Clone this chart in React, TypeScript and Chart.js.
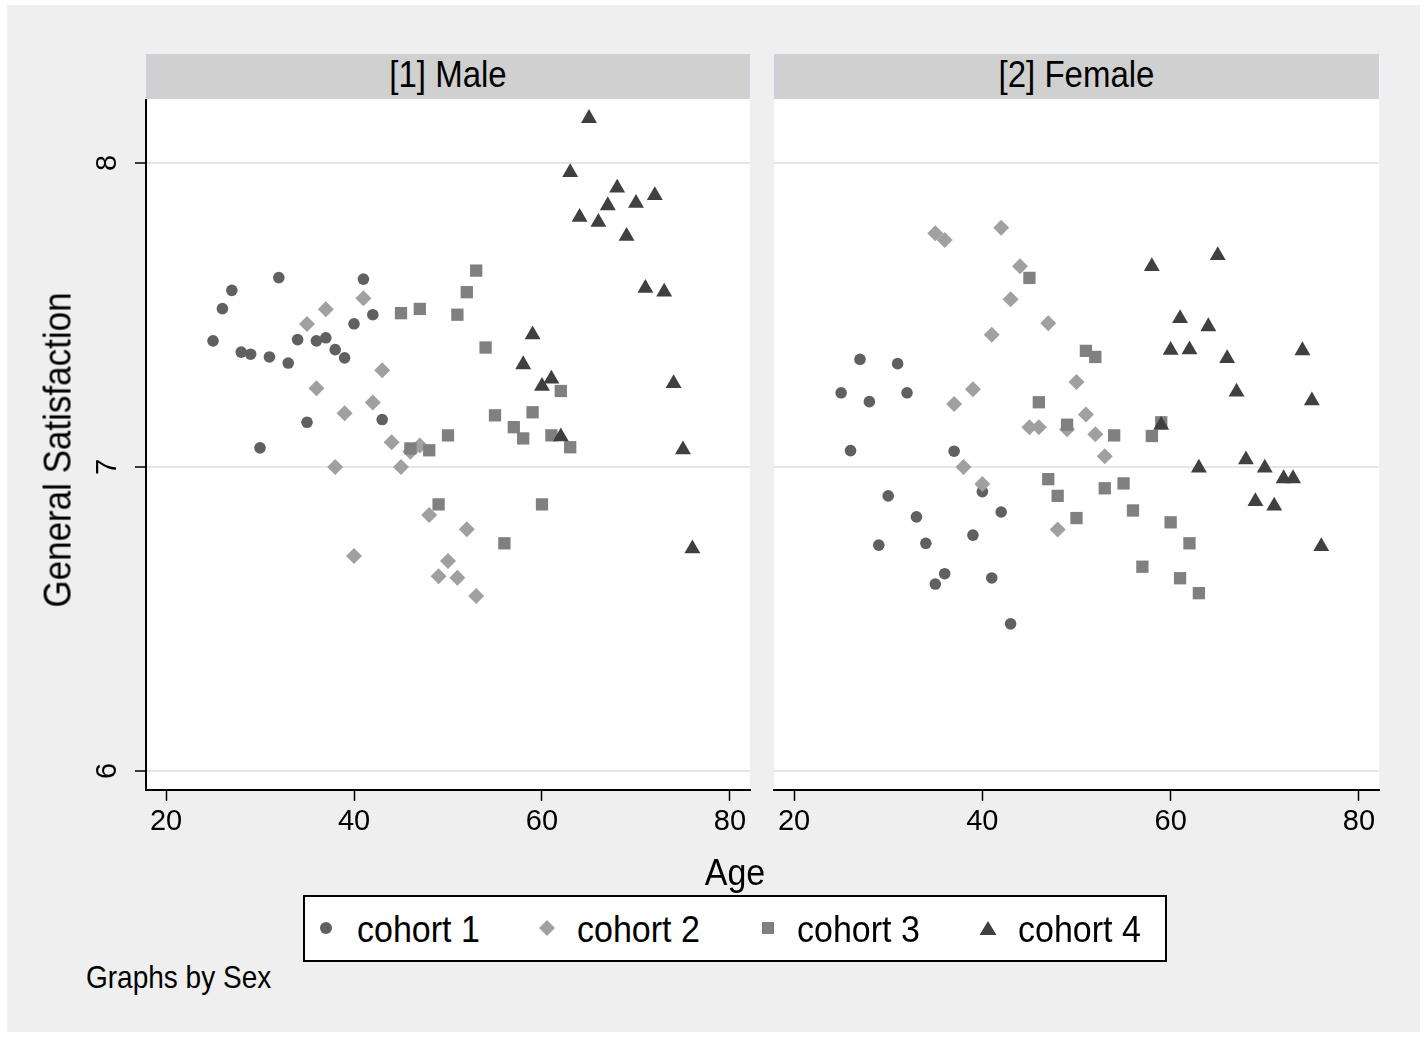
import React, { useEffect, useRef } from 'react';
import { Chart, registerables } from 'chart.js';

Chart.register(...registerables);

// ---------- data ----------
const cohortLabels = ['cohort 1', 'cohort 2', 'cohort 3', 'cohort 4'];
const panelTitles = ['[1] Male', '[2] Female'];
const ageTicks = [20, 40, 60, 80];
const satTicks = [6, 7, 8];

const maleAge1 = [25, 26, 27, 28, 29, 30, 31, 32, 33, 34, 35, 36, 37, 38, 39, 40, 41, 42, 43];
const maleSat1 = [7.415, 7.521, 7.581, 7.378, 7.371, 7.063, 7.362, 7.623, 7.342, 7.419, 7.147, 7.415, 7.425, 7.386, 7.359, 7.471, 7.618, 7.501, 7.156];
const maleAge2 = [35, 36, 37, 38, 39, 40, 41, 42, 43, 44, 45, 46, 47, 48, 49, 50, 51, 52, 53];
const maleSat2 = [7.47, 7.259, 7.519, 7.0, 7.177, 6.707, 7.555, 7.212, 7.318, 7.081, 7.0, 7.05, 7.071, 6.842, 6.641, 6.691, 6.636, 6.795, 6.576];
const maleAge3 = [45, 46, 47, 48, 49, 50, 51, 52, 53, 54, 55, 56, 57, 58, 59, 60, 61, 62, 63];
const maleSat3 = [7.506, 7.061, 7.52, 7.055, 6.877, 7.104, 7.501, 7.575, 7.646, 7.393, 7.17, 6.749, 7.131, 7.094, 7.18, 6.877, 7.104, 7.25, 7.065];
const maleAge4 = [58, 59, 60, 61, 62, 63, 64, 65, 66, 67, 68, 69, 70, 71, 72, 73, 74, 75, 76];
const maleSat4 = [7.337, 7.435, 7.266, 7.29, 7.1, 7.969, 7.822, 8.147, 7.805, 7.86, 7.918, 7.759, 7.868, 7.588, 7.893, 7.576, 7.275, 7.057, 6.731];

const femaleAge1 = [25, 26, 27, 28, 29, 30, 31, 32, 33, 34, 35, 36, 37, 39, 40, 41, 42, 43];
const femaleSat1 = [7.244, 7.054, 7.354, 7.215, 6.743, 6.905, 7.34, 7.244, 6.836, 6.749, 6.615, 6.649, 7.052, 6.776, 6.919, 6.635, 6.852, 6.484];
const femaleAge2 = [35, 36, 37, 38, 39, 40, 41, 42, 43, 44, 45, 46, 47, 48, 49, 50, 51, 52, 53];
const femaleSat2 = [7.769, 7.747, 7.207, 7.0, 7.256, 6.944, 7.435, 7.787, 7.552, 7.66, 7.131, 7.131, 7.473, 6.794, 7.124, 7.28, 7.173, 7.108, 7.035];
const femaleAge3 = [45, 46, 47, 48, 49, 50, 51, 52, 53, 54, 55, 56, 57, 58, 59, 60, 61, 62, 63];
const femaleSat3 = [7.622, 7.213, 6.96, 6.905, 7.139, 6.832, 7.382, 7.362, 6.93, 7.104, 6.946, 6.857, 6.672, 7.102, 7.147, 6.818, 6.634, 6.749, 6.585];
const femaleAge4 = [58, 59, 60, 61, 62, 63, 64, 65, 66, 67, 68, 69, 70, 71, 72, 73, 74, 75, 76];
const femaleSat4 = [7.66, 7.138, 7.384, 7.489, 7.386, 6.997, 7.462, 7.696, 7.357, 7.247, 7.024, 6.887, 6.997, 6.872, 6.962, 6.962, 7.383, 7.218, 6.739];

// ---------- styles ----------
const FONT = '"Liberation Sans", Arial, Helvetica, sans-serif';
const cohortColors = ['#606060', '#a0a0a0', '#808080', '#404040'];
const cohortShapes = ['circle', 'rectRot', 'rect', 'triangle'];
const cohortRadius = [5.8, 8, 8.7, 9.2];

const X_MIN = 17.87;
const X_MAX = 82.13;
const Y_MIN = 5.9375;
const Y_MAX = 8.2105;

const CANVAS_TOP = 99;
const CANVAS_H = 760;
const PLOT_H = 691;
const STRETCH = 'scaleY(1.1)';

const plotBackground = {
  id: 'plotBackground',
  beforeDraw(chart: any) {
    const { ctx, chartArea } = chart;
    if (!chartArea) return;
    ctx.save();
    ctx.fillStyle = '#ffffff';
    ctx.fillRect(chartArea.left, chartArea.top, chartArea.right - chartArea.left, chartArea.bottom - chartArea.top);
    ctx.restore();
  },
};

type PanelProps = {
  ages: number[][];
  sats: number[][];
  showY: boolean;
  left: number;
  width: number;
};

function Panel({ ages, sats, showY, left, width }: PanelProps) {
  const ref = useRef<HTMLCanvasElement | null>(null);
  useEffect(() => {
    if (!ref.current) return;
    const datasets = ages.map((a, i) => ({
      label: cohortLabels[i],
      data: a.map((x, j) => ({ x, y: sats[i][j] })),
      pointStyle: cohortShapes[i] as any,
      pointRadius: cohortRadius[i],
      pointBackgroundColor: cohortColors[i],
      pointBorderWidth: 0,
      pointBorderColor: cohortColors[i],
      order: 3 - i,
    }));
    const chart = new Chart(ref.current, {
      type: 'scatter',
      data: { datasets },
      plugins: [plotBackground],
      options: {
        responsive: false,
        animation: false,
        devicePixelRatio: 1,
        events: [],
        layout: {
          autoPadding: false,
          padding: { left: showY ? 0 : 10, right: 10, top: 0, bottom: 0 },
        },
        plugins: { legend: { display: false }, tooltip: { enabled: false } },
        scales: {
          x: {
            type: 'linear',
            min: X_MIN,
            max: X_MAX,
            afterBuildTicks: (s: any) => {
              s.ticks = ageTicks.map((v) => ({ value: v }));
            },
            afterFit: (s: any) => {
              s.height = CANVAS_H - PLOT_H;
              s.paddingLeft = 0;
              s.paddingRight = 0;
              s.paddingTop = 0;
              s.paddingBottom = 0;
            },
            grid: {
              display: true,
              drawOnChartArea: false,
              drawTicks: true,
              tickLength: 11,
              tickColor: '#000',
              tickWidth: 1.5,
            },
            border: { display: true, color: '#000', width: 2 },
            ticks: {
              color: '#000',
              font: { family: FONT, size: 29 },
              padding: 4,
              maxRotation: 0,
              minRotation: 0,
              autoSkip: false,
            },
          },
          y: {
            type: 'linear',
            min: Y_MIN,
            max: Y_MAX,
            afterBuildTicks: (s: any) => {
              s.ticks = satTicks.map((v) => ({ value: v }));
            },
            afterFit: (s: any) => {
              s.width = showY ? 146 : 0;
              s.paddingLeft = 0;
              s.paddingRight = 0;
              s.paddingTop = 0;
              s.paddingBottom = 0;
            },
            grid: {
              display: true,
              drawOnChartArea: true,
              drawTicks: showY,
              color: '#e6e6e6',
              lineWidth: 2,
              tickLength: 11,
              tickColor: '#000',
              tickWidth: 1.5,
            },
            border: { display: showY, color: '#000', width: 2 },
            ticks: {
              display: showY,
              color: '#000',
              font: { family: FONT, size: 29 },
              padding: 19,
              minRotation: 90,
              maxRotation: 90,
              crossAlign: 'center',
              autoSkip: false,
            },
          },
        },
      },
    } as any);
    return () => chart.destroy();
  }, []);
  return (
    <canvas
      ref={ref}
      width={width}
      height={CANVAS_H}
      style={{ position: 'absolute', left, top: CANVAS_TOP, width, height: CANVAS_H }}
    />
  );
}

function Strip({ left, width, text }: { left: number; width: number; text: string }) {
  return (
    <div
      style={{
        position: 'absolute',
        left,
        top: 54,
        width,
        height: 45,
        boxSizing: 'border-box',
        background: '#d0d0d0',
        border: '1px solid #c9d3e3',
      }}
    >
      <div
        style={{
          position: 'absolute',
          left: '50%',
          top: 19,
          transform: 'translate(-50%, -50%) ' + STRETCH,
          fontFamily: FONT,
          fontSize: 33,
          color: '#000',
          lineHeight: 1,
          whiteSpace: 'nowrap',
        }}
      >
        {text}
      </div>
    </div>
  );
}

function LegendMarker({ i, cx, cy }: { i: number; cx: number; cy: number }) {
  const s = 20;
  const c = cohortColors[i];
  let shape: React.ReactNode = null;
  if (i === 0) shape = <circle cx={10} cy={10} r={6} fill={c} />;
  if (i === 1) shape = <polygon points="10,2 18,10 10,18 2,10" fill={c} />;
  if (i === 2) shape = <rect x={4} y={4} width={12} height={12} fill={c} />;
  if (i === 3) shape = <polygon points="10,3 18.5,17 1.5,17" fill={c} />;
  return (
    <svg
      width={s}
      height={s}
      style={{ position: 'absolute', left: cx - s / 2, top: cy - s / 2 }}
    >
      {shape}
    </svg>
  );
}

const textStyle = (size: number): React.CSSProperties => ({
  position: 'absolute',
  fontFamily: FONT,
  fontSize: size,
  lineHeight: 1,
  color: '#000',
  whiteSpace: 'nowrap',
});

export default function App() {
  const legendMarkerX = [326, 547, 768, 988];
  const legendTextX = [357, 577, 797, 1018];
  return (
    <div
      style={{
        position: 'absolute',
        left: 0,
        top: 0,
        width: 1427,
        height: 1038,
        background: '#ffffff',
        overflow: 'hidden',
      }}
    >
      <div
        style={{
          position: 'absolute',
          left: 7,
          top: 5,
          width: 1413,
          height: 1027,
          background: '#efefef',
        }}
      />
      <Strip left={146} width={604} text={panelTitles[0]} />
      <Strip left={774} width={605} text={panelTitles[1]} />
      <Panel
        ages={[maleAge1, maleAge2, maleAge3, maleAge4]}
        sats={[maleSat1, maleSat2, maleSat3, maleSat4]}
        showY={true}
        left={0}
        width={760}
      />
      <Panel
        ages={[femaleAge1, femaleAge2, femaleAge3, femaleAge4]}
        sats={[femaleSat1, femaleSat2, femaleSat3, femaleSat4]}
        showY={false}
        left={764}
        width={625}
      />
      <div
        style={{
          ...textStyle(35),
          left: 57,
          top: 450,
          transform: 'translate(-50%, -50%) rotate(-90deg) ' + STRETCH,
        }}
      >
        General Satisfaction
      </div>
      <div style={{ ...textStyle(34), left: 735, top: 872, transform: 'translate(-50%, -50%) ' + STRETCH }}>Age</div>
      <div
        style={{
          position: 'absolute',
          left: 303,
          top: 895,
          width: 864,
          height: 67,
          boxSizing: 'border-box',
          background: '#ffffff',
          border: '2px solid #000',
        }}
      />
      {cohortLabels.map((lab, i) => (
        <React.Fragment key={lab}>
          <LegendMarker i={i} cx={legendMarkerX[i]} cy={928} />
          <div style={{ ...textStyle(34), left: legendTextX[i], top: 929, transform: 'translateY(-50%) ' + STRETCH }}>{lab}</div>
        </React.Fragment>
      ))}
      <div style={{ ...textStyle(28), left: 86, top: 978, transform: 'translateY(-50%) ' + STRETCH }}>Graphs by Sex</div>
    </div>
  );
}
